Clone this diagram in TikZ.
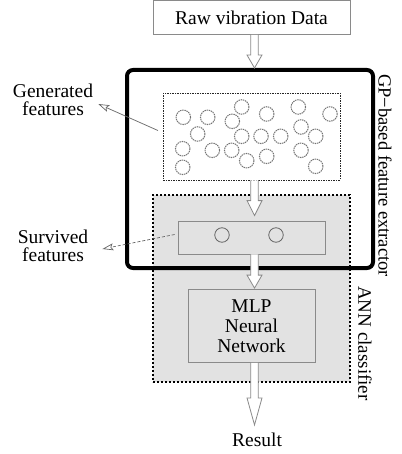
\documentclass[tikz,border=0pt]{standalone}
\usepackage{fontspec}
\setmainfont{Liberation Serif}
\usetikzlibrary{calc,arrows.meta}
\definecolor{annfill}{HTML}{E2E2E2}
\definecolor{edgegray}{HTML}{8A8A8A}
\newcommand\myblockarrow[3]{%
  \draw[blk] ($(#1)+(-3.8,0)$) -- ($(#2)+(-3.8,-#3)$) -- ($(#2)+(-7.5,-#3)$) -- (#2)
    -- ($(#2)+(7.5,-#3)$) -- ($(#2)+(3.8,-#3)$) -- ($(#1)+(3.8,0)$);}
\begin{document}
\begin{tikzpicture}[x=1pt,y=-1pt,
  txt/.style={font=\fontsize{19.5}{17.5}\selectfont, align=center, inner sep=0pt},
  box/.style={draw=edgegray, line width=0.8pt, inner sep=0pt},
  feat/.style={circle, draw=black!55, dash pattern=on 1.4pt off 0.8pt, line width=1pt, minimum size=14.5pt, inner sep=0pt},
  blk/.style={draw=edgegray, fill=white, line width=0.8pt, line join=miter},
  note/.style={draw=black!60, line width=0.7pt, -{Stealth[open,length=11pt,width=7pt,inset=2pt]}},
]
\useasboundingbox (0,0) rectangle (401,454);

% ANN classifier box (background)
\node[fill=annfill, draw=black, dotted, line width=2pt, minimum width=197pt, minimum height=187pt, inner sep=0pt] (ann) at (251.5,288.5) {};

% GP-based feature extractor box
\node[draw=black, line width=4pt, rounded corners=6pt, minimum width=246pt, minimum height=198pt, inner sep=0pt] (gp) at (250,169) {};

% raw data
\node[box, txt, minimum width=197pt, minimum height=34pt] (raw) at (251.5,17.5) {Raw vibration Data};

% generated features box
\node[draw=black!85, dash pattern=on 1.5pt off 1pt, line width=0.9pt, fill=white, minimum width=176.7pt, minimum height=87pt, inner sep=0pt] (gen) at (251.7,136.5) {};
\foreach \i/\x/\y in {1/183.3/117.3, 2/207.7/117.3, 3/241.7/107, 4/232.3/121.3, 5/266.7/114,
  6/298.3/107, 7/330/114, 8/197.7/134, 9/241.7/136.3, 10/261/136.3, 11/280.7/136.3,
  12/301/127, 13/315.7/136.3, 14/182.7/148.7, 15/212.3/150.3, 16/231.7/150.3,
  17/246.7/160.7, 18/266.7/156.3, 19/301/150.3, 20/182.7/167.3, 21/315.7/166.3}
  \node[feat] (g\i) at (\x,\y) {};

% survived features box
\node[box, fill=annfill, minimum width=147pt, minimum height=33pt] (surv) at (251.5,237.5) {};
\node[feat, draw=black!60, solid, line width=0.8pt] (s1) at (222,235) {};
\node[feat, draw=black!60, solid, line width=0.8pt] (s2) at (276,235) {};

% MLP box
\node[box, fill=annfill, txt, minimum width=127pt, minimum height=73pt, font=\fontsize{19.5}{20}\selectfont] (mlp) at (251.5,326) {MLP\\Neural\\Network};

% result
\node[txt] (res) at (257,440) {Result};

% rotated labels
\node[txt, font=\fontsize{18.5}{16}\selectfont, rotate=-90] (gplbl) at (385,175.5) {GP−based feature extractor};
\node[txt, font=\fontsize{19}{16}\selectfont, rotate=-90] (annlbl) at (365,343.5) {ANN classifier};

% side labels
\node[txt] (genlbl) at (53,100) {Generated\\features};
\node[txt, font=\fontsize{19.5}{18.5}\selectfont] (survlbl) at (53,246) {Survived\\features};

% block arrows
\coordinate (a1) at ($(raw.south)+(3,0)$);
\coordinate (t1) at (a1 |- gp.north);
\myblockarrow{a1}{t1}{13}
\coordinate (a2) at ($(gen.south)+(2.8,0)$);
\coordinate (t2) at ($(a2 |- surv.north)+(0,-5)$);
\myblockarrow{a2}{t2}{15}
\coordinate (a3) at ($(surv.south)+(3,0)$);
\coordinate (t3) at ($(a3 |- mlp.north)+(0,-1)$);
\myblockarrow{a3}{t3}{13}
\coordinate (a4) at ($(mlp.south)+(3,0)$);
\coordinate (t4) at ($(a4 |- res.north)+(0,-8)$);
\myblockarrow{a4}{t4}{27}

% annotation arrows
\draw[note] ($(gen.west)+(-5,-6)$) -- ($(genlbl.east)+(5,4)$);
\draw[note, densely dashed] ($(surv.west)+(-3,-3)$) -- ($(survlbl.east)+(14,3)$);
\end{tikzpicture}
\end{document}
